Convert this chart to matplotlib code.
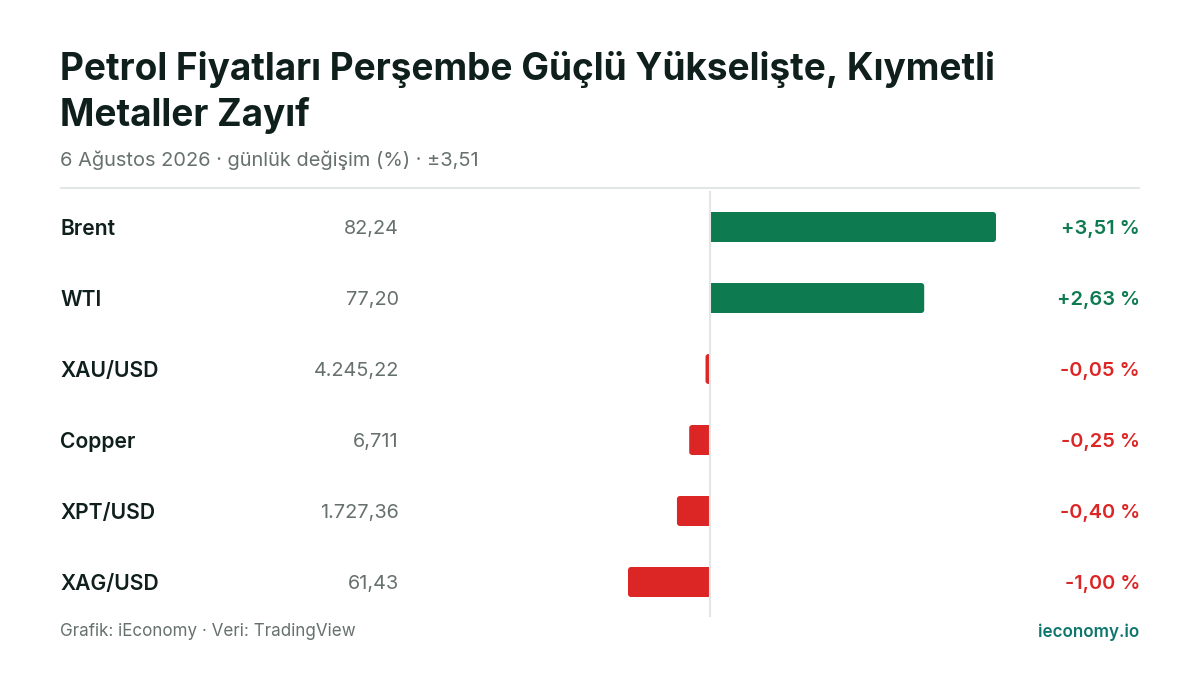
import matplotlib
matplotlib.use('Agg')
import matplotlib.pyplot as plt
from matplotlib.patches import PathPatch
from matplotlib.path import Path

plt.rcParams['font.family'] = ['Inter', 'DejaVu Sans']

# data
names = ['Brent', 'WTI', 'XAU/USD', 'Copper', 'XPT/USD', 'XAG/USD']
prices = ['82,24', '77,20', '4.245,22', '6,711', '1.727,36', '61,43']
changes = [3.51, 2.63, -0.05, -0.25, -0.40, -1.00]
labels = ['+3,51 %', '+2,63 %', '-0,05 %', '-0,25 %', '-0,40 %', '-1,00 %']

title_lines = ['Petrol Fiyatları Perşembe Güçlü Yükselişte, Kıymetli', 'Metaller Zayıf']
subtitle = '6 Ağustos 2026 · günlük değişim (%) · ±3,51'
source = 'Grafik: iEconomy · Veri: TradingView'
brand = 'ieconomy.io'

GREEN = '#0d7a50'
RED = '#dc2626'
DARK = '#0f1f1c'
GREY = '#66716e'
RULE = '#e2e6e5'

fig = plt.figure(figsize=(12, 6.75), dpi=100, facecolor='white')

# pixel-coordinate overlay for the text and rules
bg = fig.add_axes([0, 0, 1, 1])
bg.set_xlim(0, 1200)
bg.set_ylim(675, 0)
bg.axis('off')

# bar axes: zero at x=710, 3.51 at x=996
ax = fig.add_axes([628 / 1200, 1 - 617 / 675, (996 - 628) / 1200, (617 - 191) / 675])
ax.patch.set_alpha(0)
ax.axis('off')
ax.set_xlim(-1.0, 3.51)

ypix = [227, 298, 369, 440, 511, 582]
row_step = 71
ax.set_ylim(5 + (617 - 582) / row_step, -(227 - 191) / row_step)
bar_h = 30 / row_step
px_x = 4.51 / 368           # one pixel in data units
px_y = 1 / row_step


def rounded_bar(y, v, color, radius=3):
    # square at the zero line, rounded at the outer end
    sign = 1 if v > 0 else -1
    rx = min(radius * px_x, abs(v)) * sign
    ry = radius * px_y
    top, bot = y - bar_h / 2, y + bar_h / 2
    verts = [(0, top), (v - rx, top), (v, top), (v, top + ry),
             (v, bot - ry), (v, bot), (v - rx, bot), (0, bot), (0, top)]
    codes = [Path.MOVETO, Path.LINETO, Path.CURVE3, Path.CURVE3,
             Path.LINETO, Path.CURVE3, Path.CURVE3, Path.LINETO, Path.CLOSEPOLY]
    ax.add_patch(PathPatch(Path(verts, codes), facecolor=color, edgecolor='none', zorder=2))


for i, v in enumerate(changes):
    rounded_bar(i, v, GREEN if v > 0 else RED)

ax.axvline(0, color=RULE, linewidth=1.5, zorder=3)

bg.text(60, 69, title_lines[0], fontsize=26.64, fontweight='bold', color=DARK, va='center', ha='left')
bg.text(60, 116, title_lines[1], fontsize=26.64, fontweight='bold', color=DARK, va='center', ha='left')
bg.text(60, 160, subtitle, fontsize=14.4, color=GREY, va='center', ha='left')
bg.plot([60, 1140], [188, 188], color=RULE, linewidth=1.5, solid_capstyle='butt')

for y, n, p, v, l in zip(ypix, names, prices, changes, labels):
    bg.text(60, y + 2, n, fontsize=15.2, fontweight='semibold', color=DARK, va='center', ha='left')
    bg.text(399, y + 2, p, fontsize=14.3, color=GREY, va='center', ha='right')
    bg.text(1140, y + 2, l, fontsize=14.4, fontweight='semibold', color=GREEN if v > 0 else RED, va='center', ha='right')

bg.text(60, 632, source, fontsize=12.25, color=GREY, va='center', ha='left')
bg.text(1139, 632, brand, fontsize=12.25, fontweight='semibold', color='#0f766e', va='center', ha='right')

fig.savefig('out.png', dpi=100, facecolor='white')
